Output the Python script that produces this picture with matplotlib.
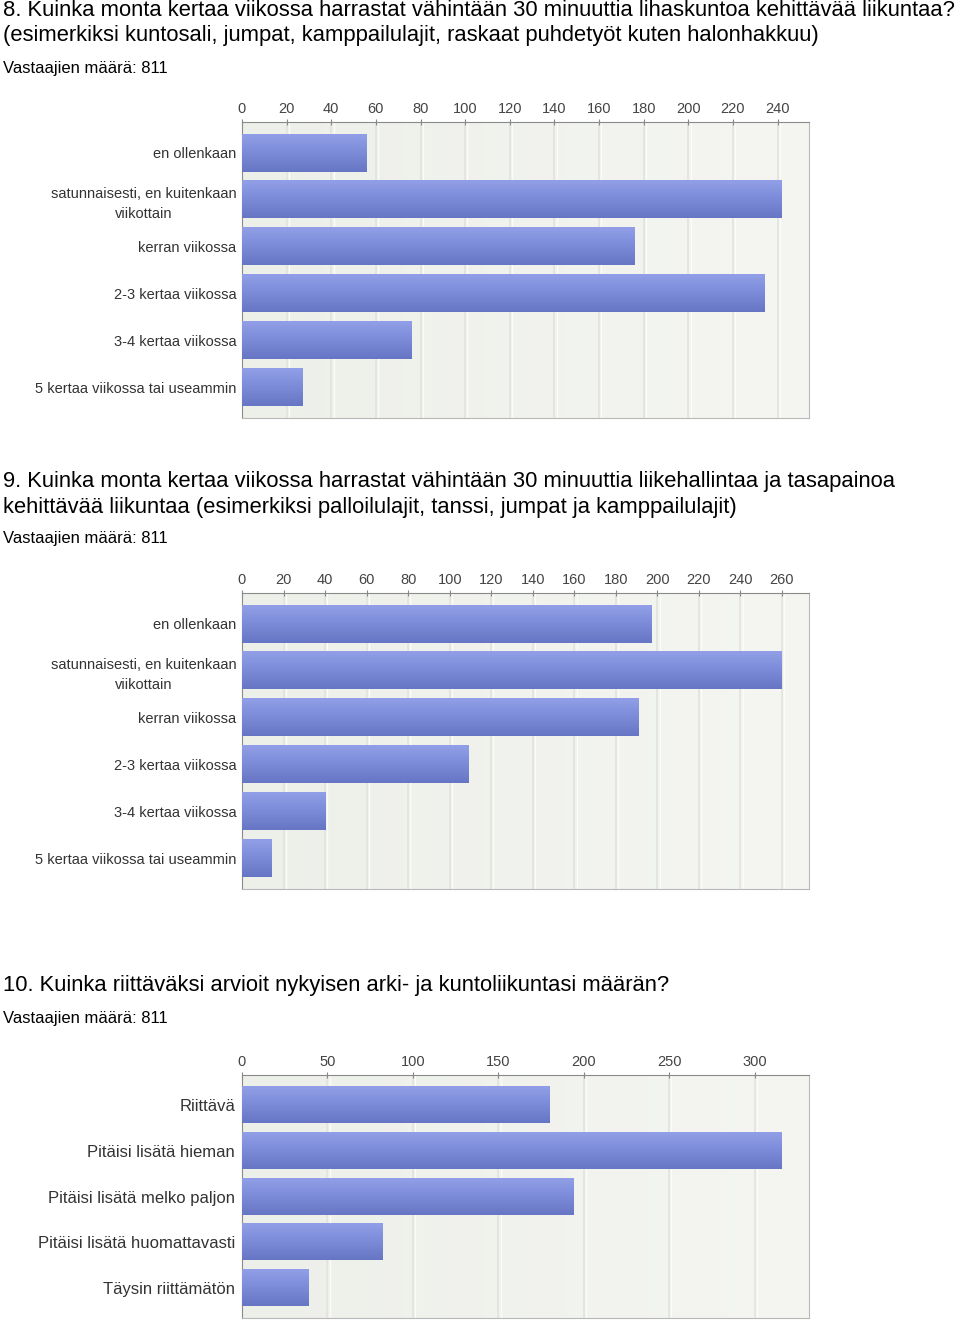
import numpy as np
import matplotlib.pyplot as plt
from matplotlib.colors import LinearSegmentedColormap

plt.rcParams['font.family'] = ['Liberation Sans', 'DejaVu Sans']

# question 8
q8_labels = ['en ollenkaan', 'satunnaisesti, en kuitenkaan\nviikottain', 'kerran viikossa',
             '2-3 kertaa viikossa', '3-4 kertaa viikossa', '5 kertaa viikossa tai useammin']
q8_values = [56, 242, 176, 234, 76, 27]
q8_ticks = list(range(0, 241, 20))

# question 9
q9_labels = q8_labels
q9_values = [197, 260, 191, 109, 40, 14]
q9_ticks = list(range(0, 261, 20))

# question 10
q10_labels = ['Riittävä', 'Pitäisi lisätä hieman', 'Pitäisi lisätä melko paljon',
              'Pitäisi lisätä huomattavasti', 'Täysin riittämätön']
q10_values = [180, 316, 194, 82, 39]
q10_ticks = list(range(0, 301, 50))

titles = [
    ['8. Kuinka monta kertaa viikossa harrastat vähintään 30 minuuttia lihaskuntoa kehittävää liikuntaa?',
     '(esimerkiksi kuntosali, jumpat, kamppailulajit, raskaat puhdetyöt kuten halonhakkuu)'],
    ['9. Kuinka monta kertaa viikossa harrastat vähintään 30 minuuttia liikehallintaa ja tasapainoa',
     'kehittävää liikuntaa (esimerkiksi palloilulajit, tanssi, jumpat ja kamppailulajit)'],
    ['10. Kuinka riittäväksi arvioit nykyisen arki- ja kuntoliikuntasi määrän?'],
]
respondents = 'Vastaajien määrä: 811'

W, H = 960, 1327
fig = plt.figure(figsize=(W / 100, H / 100), dpi=100)

bar_cmap = LinearSegmentedColormap.from_list('bar', ['#929fe8', '#7b8bd8', '#6676c4'])


def px_axes(left, top, right, bottom):
    return fig.add_axes([left / W, 1 - bottom / H, (right - left) / W, (bottom - top) / H])


def draw_chart(ax, labels, values, ticks, label_size=10.5, label_pad=4):
    n = len(values)
    y = np.arange(n)
    xmax = max(values) * 1.05
    # background with vertical stripes
    bg = np.linspace(0, 1, 200)[None, :]
    ax.imshow(bg, extent=(0, xmax, n - 0.34, -0.66), aspect='auto',
              cmap=LinearSegmentedColormap.from_list('bg', ['#edefe9', '#f5f6f2']),
              zorder=0)
    for t in ticks[1:]:
        ax.axvline(t, color='#e1e3dd', lw=1.2, zorder=1)
        ax.axvline(t + xmax * 0.004, color='#fbfbf9', lw=1, zorder=1)
    bars = ax.barh(y, values, height=0.8, color='#7b8bd8', zorder=2)
    grad = np.linspace(0, 1, 100)[:, None]
    for b in bars:
        x0, y0, w, h = b.get_x(), b.get_y(), b.get_width(), b.get_height()
        ax.imshow(grad, extent=(x0, x0 + w, y0 + h, y0), aspect='auto',
                  cmap=bar_cmap, zorder=3)
    ax.set_xlim(0, xmax)
    ax.set_ylim(n - 0.34, -0.66)
    ax.xaxis.tick_top()
    ax.set_xticks(ticks)
    ax.tick_params(axis='x', direction='inout', length=5, color='#888888',
                   labelsize=10.5, labelcolor='#444444', pad=1.5)
    ax.set_yticks(y)
    ax.set_yticklabels(labels, fontsize=label_size, color='#333333',
                       multialignment='center', linespacing=1.5)
    ax.tick_params(axis='y', length=0, pad=label_pad)
    for s in ['top', 'left']:
        ax.spines[s].set_color('#8a8a8a')
    for s in ['bottom', 'right']:
        ax.spines[s].set_color('#b8b8b8')


ax1 = px_axes(242, 122, 809, 418)
draw_chart(ax1, q8_labels, q8_values, q8_ticks)
ax2 = px_axes(242, 593, 809, 889)
draw_chart(ax2, q9_labels, q9_values, q9_ticks)
ax3 = px_axes(242, 1075, 809, 1318)
draw_chart(ax3, q10_labels, q10_values, q10_ticks, label_size=12, label_pad=5)

title_y = [[11, 36], [481, 507], [985]]
resp_y = [69, 539, 1018]
for lines, ys, ry in zip(titles, title_y, resp_y):
    for line, yy in zip(lines, ys):
        fig.text(3 / W, 1 - yy / H, line, fontsize=15.8, va='center', ha='left', color='black')
    fig.text(3 / W, 1 - ry / H, respondents, fontsize=12, va='center', ha='left', color='black')

fig.savefig('out.png', dpi=100, facecolor='white')
